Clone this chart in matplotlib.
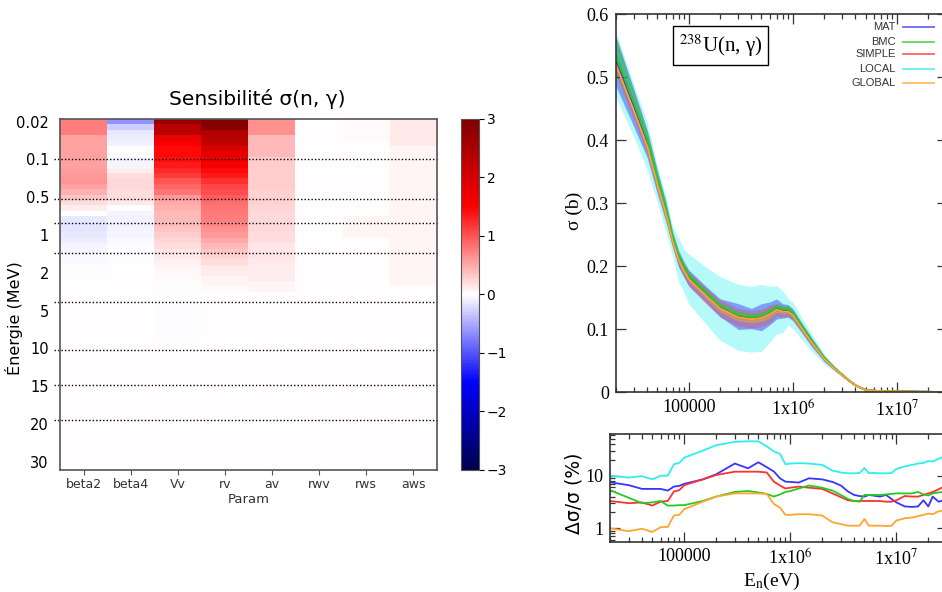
import numpy as np
import matplotlib
matplotlib.use("Agg")
import matplotlib.pyplot as plt
from matplotlib.ticker import LogLocator, NullFormatter

plt.rcParams["mathtext.fontset"] = "stix"

# ---------------- left: sensitivity heatmap ----------------
params = ["beta2", "beta4", "Vv", "rv", "av", "rwv", "rws", "aws"]
energy_labels = ["0.02", "0.1", "0.5", "1", "2", "5", "10", "15", "20", "30"]
n_rows = 65
label_step = 7
boundary_rows = [7.5, 14.9, 19.3, 24.9, 33.8, 42.8, 49.3, 55.7]
background = 0.01

# top rows of each column (lower rows stay at background)
beta2 = [0.75, 0.75, 0.75, 0.55, 0.55, 0.55, 0.55, 0.55, 0.55, 0.58, 0.6, 0.62,
         0.55, 0.45, 0.35, 0.2, 0.1, 0.02, -0.12, -0.15, -0.15, -0.12, -0.1,
         -0.07, -0.05, -0.04, -0.03, -0.02, -0.02, -0.01, 0.0, 0.0]
beta4 = [-0.65, -0.3, -0.12, -0.1, -0.08, 0.0, 0.0, -0.05, -0.05, 0.1, 0.2, 0.22,
         0.22, 0.2, 0.2, 0.12, 0.02, -0.05, -0.08, -0.08, -0.06, -0.05, -0.03,
         -0.02, -0.01, -0.01, -0.01, 0.0, 0.0, 0.0, 0.0, 0.0]
Vv = [2.7, 2.3, 2.3, 1.7, 1.55, 1.45, 1.45, 1.4, 1.35, 1.25, 1.15, 1.0, 0.9, 0.8,
      0.6, 0.5, 0.45, 0.42, 0.4, 0.38, 0.35, 0.3, 0.25, 0.2, 0.15, 0.12, 0.08,
      0.06, 0.04, 0.03, 0.01, 0.0, -0.02, -0.02, -0.02, -0.02, -0.02, -0.02,
      -0.02, -0.02, -0.02]
rv = [2.95, 2.9, 2.4, 2.3, 2.2, 1.9, 1.8, 1.7, 1.6, 1.45, 1.35, 1.2, 1.1, 1.05,
      0.95, 0.85, 0.8, 0.78, 0.75, 0.7, 0.65, 0.6, 0.5, 0.42, 0.35, 0.25, 0.2,
      0.14, 0.1, 0.07, 0.05, 0.03]
av = [0.65, 0.65, 0.65, 0.4, 0.4, 0.4, 0.4, 0.3, 0.3, 0.3, 0.3, 0.3, 0.3, 0.28,
      0.28, 0.26, 0.25, 0.22, 0.22, 0.22, 0.22, 0.2, 0.2, 0.15, 0.15, 0.15, 0.14,
      0.1, 0.1, 0.1, 0.05, 0.05]
rwv = [0.005]
rws = [0.04, 0.04, 0.04, 0.04, 0.015, 0.015, 0.015, 0.015, 0.015, 0.015, 0.015,
       0.015, 0.015, 0.015, 0.015, 0.015, 0.015, 0.015, 0.05, 0.05, 0.05, 0.05]
aws = [0.12, 0.12, 0.12, 0.12, 0.12, 0.07, 0.07, 0.07, 0.07, 0.07, 0.07, 0.07,
       0.05, 0.05, 0.05, 0.05, 0.05, 0.05, 0.05, 0.05, 0.05, 0.05, 0.05, 0.05,
       0.05, 0.05, 0.05, 0.05, 0.05, 0.05, 0.05]

# ---------------- right: capture cross section ----------------
energy = [2e4, 3e4, 4e4, 5e4, 6e4, 7e4, 8e4, 9e4, 1e5, 1.5e5, 2e5, 3e5, 4e5, 5e5,
          6e5, 7e5, 8e5, 9e5, 1e6, 1.2e6, 1.5e6, 2e6, 2.5e6, 3e6, 3.5e6, 4e6,
          4.5e6, 5e6, 5.5e6, 6e6, 7e6, 8e6, 9e6, 1e7, 1.2e7, 1.4e7, 1.6e7, 1.8e7,
          2e7, 2.2e7, 2.5e7, 2.8e7]
sigma = [0.52, 0.445, 0.39, 0.33, 0.285, 0.24, 0.21, 0.193, 0.18, 0.152, 0.133,
         0.119, 0.116, 0.118, 0.124, 0.131, 0.128, 0.128, 0.122, 0.103, 0.08,
         0.053, 0.038, 0.027, 0.018, 0.011, 0.007, 0.004, 0.003, 0.0025, 0.002,
         0.0018, 0.0017, 0.0016, 0.0014, 0.0012, 0.001, 0.0009, 0.0008, 0.0007,
         0.0006, 0.0005]

# relative uncertainty (%) of each method
err_mat = [7.5, 6.6, 5.6, 5.6, 5.6, 5.2, 6.2, 6.4, 7.0, 8.5, 10.6, 17, 13.8, 18,
           14.5, 12, 8.9, 7.7, 7.6, 7.4, 8.9, 8.5, 7.6, 6.5, 5.0, 4.3, 4.1, 4.0,
           4.3, 4.2, 4.0, 4.3, 3.6, 3.1, 2.6, 2.55, 2.6, 3.4, 2.6, 4.0, 3.2, 3.4]
err_bmc = [5.3, 3.8, 3.0, 3.1, 3.3, 2.7, 2.7, 2.75, 2.75, 3.3, 4.0, 4.9, 5.1, 4.8,
           4.5, 4.0, 4.4, 4.9, 5.1, 5.7, 6.5, 5.9, 5.2, 4.3, 3.6, 3.3, 3.2, 4.3,
           4.3, 4.3, 4.3, 4.4, 4.5, 4.6, 4.6, 4.6, 4.9, 4.4, 4.2, 4.6, 4.8, 4.9]
err_simple = [3.3, 3.0, 3.1, 2.7, 3.2, 3.3, 5.0, 5.3, 6.6, 8.5, 10.3, 11.9, 11.9,
              11.9, 11.5, 7.7, 6.5, 5.7, 5.9, 6.2, 5.9, 5.6, 4.6, 3.9, 3.4, 3.3,
              3.3, 3.3, 3.3, 3.3, 3.3, 3.2, 3.2, 3.4, 4.1, 4.0, 4.0, 4.3, 4.6, 4.9,
              5.5, 6.2]
err_local = [10, 9.2, 9.8, 8.5, 10, 10, 16.5, 17.5, 22, 30, 38, 44, 45, 45, 36,
             29, 26, 16.5, 17, 17.3, 17, 16, 12.5, 11.5, 11.1, 11.1, 11.2, 14,
             11.1, 11.3, 11.1, 11.1, 11.2, 13.5, 15, 16, 17, 17.5, 19, 18.5, 21, 23]
err_global = [1.0, 0.88, 0.98, 0.85, 1.05, 1.06, 1.75, 1.8, 2.3, 3.2, 4.0, 4.6,
              4.6, 4.6, 4.5, 2.9, 2.45, 1.8, 1.8, 1.85, 1.85, 1.75, 1.3, 1.2, 1.12,
              1.12, 1.12, 1.5, 1.12, 1.12, 1.12, 1.1, 1.12, 1.4, 1.55, 1.6, 1.7,
              1.8, 1.9, 1.85, 2.1, 2.2]

methods = ["MAT", "BMC", "SIMPLE", "LOCAL", "GLOBAL"]
center_scale = [1.01, 1.03, 1.0, 1.0, 1.0]
errors = [err_mat, err_bmc, err_simple, err_local, err_global]
colors = ["#3535ff", "#22cc22", "#ff3030", "#30eeee", "#ffa530"]
band_alpha = [0.45, 0.45, 0.3, 0.35, 0.5]

fig = plt.figure(figsize=(9.42, 5.92), dpi=100)

# ---- heatmap ----
cols = [beta2, beta4, Vv, rv, av, rwv, rws, aws]
matrix = np.array([c + [background] * (n_rows - len(c)) for c in cols]).T

ax = fig.add_axes([0.0637, 0.2061, 0.4002, 0.5929])
im = ax.imshow(matrix, cmap="seismic", vmin=-3, vmax=3, aspect="auto",
               interpolation="nearest", extent=(0, len(params), n_rows, 0))
ax.hlines(boundary_rows, -0.12, len(params), colors="black", linestyles=(0, (1, 1.5)),
          linewidth=1.0, clip_on=False)
ax.set_xlim(0, len(params))
ax.set_ylim(n_rows, 0)
ax.set_xticks(np.arange(len(params)) + 0.5, params)
ax.set_yticks(np.arange(len(energy_labels)) * label_step + 0.5, energy_labels)
ax.tick_params(axis="x", length=3.5, color="#555555", labelsize=9, labelcolor="#333333", pad=2)
ax.tick_params(axis="y", length=0, labelsize=10.5, pad=8)
ax.set_xlabel("Param", fontsize=9.5, color="#333333", labelpad=2)
ax.set_ylabel("Énergie (MeV)", fontsize=11.5)
ax.yaxis.set_label_coords(-0.098, 0.433)
ax.text(0.524, 1.057, "Sensibilité σ(n, γ)", transform=ax.transAxes,
        ha="center", va="center", fontsize=14.5)
for s in ax.spines.values():
    s.set_color("#555555")
    s.set_linewidth(1.2)

cax = fig.add_axes([0.489, 0.2061, 0.0194, 0.5929])
cb = fig.colorbar(im, cax=cax, ticks=range(-3, 4))
cb.ax.tick_params(labelsize=10, length=3.5, pad=2)
cb.outline.set_edgecolor("#555555")

# ---- cross section ----
E = np.array(energy)
sig = np.array(sigma)
ax1 = fig.add_axes([0.6539, 0.3373, 0.3509, 0.6385])
order = [3, 0, 2, 1, 4]
for i in order:
    c = sig * center_scale[i]
    r = np.array(errors[i]) / 100.0
    ax1.fill_between(E, c * (1 - r), c * (1 + r), color=colors[i],
                     alpha=band_alpha[i], linewidth=0)
for i in order:
    ax1.plot(E, sig * center_scale[i], color=colors[i], lw=1.3)

ax1.set_xscale("log")
ax1.set_xlim(2e4, 3e7)
ax1.set_ylim(0, 0.6)
ax1.set_xticks([1e5, 1e6, 1e7], ["100000", r"1x10$^{6}$", r"1x10$^{7}$"])
ax1.xaxis.set_minor_locator(LogLocator(base=10, subs=np.arange(2, 10)))
ax1.xaxis.set_minor_formatter(NullFormatter())
ax1.set_yticks(np.arange(0, 0.61, 0.1), ["0", "0.1", "0.2", "0.3", "0.4", "0.5", "0.6"])
ax1.set_ylabel("σ (b)", family="Liberation Serif", fontsize=14)
ax1.yaxis.set_label_coords(-0.1, 0.48)

ax1.text(0.316, 0.917, r"$^{238}$U(n, γ)", transform=ax1.transAxes, ha="center",
         va="center", family="Liberation Serif", fontsize=15,
         bbox=dict(boxstyle="square,pad=0.3", fc="white", ec="black", lw=1.0))

leg_y = [0.967, 0.9275, 0.894, 0.855, 0.819]
for i, name in enumerate(methods):
    ax1.text(0.847, leg_y[i], name, transform=ax1.transAxes, ha="right", va="center",
             family="Liberation Sans", fontsize=8, color="#333333")
    ax1.plot([0.867, 0.961], [leg_y[i], leg_y[i]], transform=ax1.transAxes,
             color=colors[i], lw=1.3, alpha=0.75)

# ---- relative uncertainty ----
ax2 = fig.add_axes([0.6476, 0.0853, 0.3577, 0.1816])
for i in [3, 0, 2, 1, 4]:
    ax2.plot(E, errors[i], color=colors[i], lw=1.3)
ax2.set_xscale("log")
ax2.set_yscale("log")
ax2.set_xlim(2e4, 3e7)
ax2.set_ylim(0.56, 62)
ax2.set_xticks([1e5, 1e6, 1e7], ["100000", r"1x10$^{6}$", r"1x10$^{7}$"])
ax2.xaxis.set_minor_locator(LogLocator(base=10, subs=np.arange(2, 10)))
ax2.xaxis.set_minor_formatter(NullFormatter())
ax2.set_yticks([1, 10], ["1", "10"])
ax2.yaxis.set_minor_locator(LogLocator(base=10, subs=np.arange(2, 10)))
ax2.yaxis.set_minor_formatter(NullFormatter())
ax2.set_xlabel(r"E$_{\rm n}$(eV)", family="Liberation Serif", fontsize=14)
ax2.xaxis.set_label_coords(0.48, -0.27)
ax2.set_ylabel("Δσ/σ (%)", fontsize=13.5)
ax2.yaxis.set_label_coords(-0.08, 0.45)

for a in (ax1, ax2):
    a.tick_params(which="both", direction="in", top=True, right=True,
                  labelsize=13, width=0.9, color="#333333")
    a.tick_params(which="major", length=7, pad=5)
    a.tick_params(which="minor", length=3.5)
    for lab in a.get_xticklabels() + a.get_yticklabels():
        lab.set_family("Liberation Serif")
    for s in a.spines.values():
        s.set_color("#333333")
        s.set_linewidth(1.2)

fig.savefig("out.png", dpi=100)
